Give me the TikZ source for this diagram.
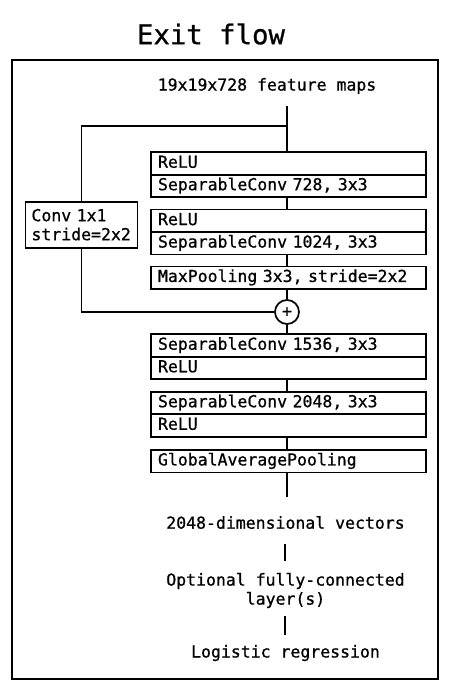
\documentclass[tikz,border=0pt]{standalone}
\usepackage{fontspec}
\setmainfont{DejaVu Sans Mono}[FakeBold=0.8]
\usetikzlibrary{positioning}

\tikzset{
    wire/.style={-,line width=1.7pt},
    block/.style={draw,line width=1.7pt,inner ysep=0pt,align=left,
        font=\fontsize{16.5}{19}\selectfont},
    layer/.style={block,minimum width=275pt,minimum height=22.5pt,
        text width=261pt,inner xsep=7pt,text height=12pt,text depth=3.5pt},
    txt/.style={inner sep=0pt,align=center,font=\fontsize{16.5}{19}\selectfont},
}

\begin{document}
\begin{tikzpicture}[x=1pt,y=-1pt,node distance=-1.7pt]
    \useasboundingbox (0,0) rectangle (458,692);
    \draw[wire](12,60) rectangle (438,679);

    \node[txt,font=\fontsize{27.3}{30}\selectfont] (title) at (211,34) {Exit flow};
    \node[txt] (in) at (267,86) {19x19x728 feature maps};

    % residual branch
    \node[layer] (relu1) at (288.5,163.5) {ReLU};
    \node[layer,below=of relu1] (sep1) {SeparableConv 728, 3x3};
    \node[layer] (relu2) at (288.5,220.8) {ReLU};
    \node[layer,below=of relu2] (sep2) {SeparableConv 1024, 3x3};
    \node[layer] (pool) at (288.5,277.7) {MaxPooling 3x3, stride=2x2};
    \node[draw,circle,line width=1.7pt,minimum size=24pt,inner sep=0pt,font=\fontsize{16.5}{19}\selectfont] (add) at (287,312) {+};

    % shortcut
    \node[block,minimum width=112pt,text width=100pt,inner xsep=6pt,minimum height=46pt] (conv) at (81.5,224.7) {Conv 1x1\\stride=2x2};

    \node[layer] (sep3) at (288.5,345.5) {SeparableConv 1536, 3x3};
    \node[layer,below=of sep3] (relu3) {ReLU};
    \node[layer] (sep4) at (288.5,403) {SeparableConv 2048, 3x3};
    \node[layer,below=of sep4] (relu4) {ReLU};
    \node[layer] (gap) at (288.5,461.2) {GlobalAveragePooling};

    \node[txt] (vec) at (285.5,522.5) {2048-dimensional vectors};
    \node[txt] (fc) at (285.5,590.5) {Optional fully-connected\\layer(s)};
    \node[txt] (logit) at (285.5,653) {Logistic regression};

    \coordinate (top) at (287,106);
    \coordinate (split) at (287,126);
    \coordinate (out) at (287,497);

    \draw[wire](top)--(relu1.north -| top);
    \draw[wire](sep1.south -| top)--(relu2.north -| top);
    \draw[wire](sep2.south -| top)--(pool.north -| top);
    \draw[wire](pool.south -| top)--(add.north);
    \draw[wire](split)-|(conv.north);
    \draw[wire](conv.south)|-(add.west);
    \draw[wire](add.south)--(sep3.north -| add);
    \draw[wire](relu3.south -| add)--(sep4.north -| add);
    \draw[wire](relu4.south -| add)--(gap.north -| add);
    \draw[wire](gap.south -| add)--(out);
    \draw[wire](vec.center) ++(-0.5,21) -- ++(0,17);
    \draw[wire](fc.center) ++(-0.5,25) -- ++(0,19);
\end{tikzpicture}
\end{document}
